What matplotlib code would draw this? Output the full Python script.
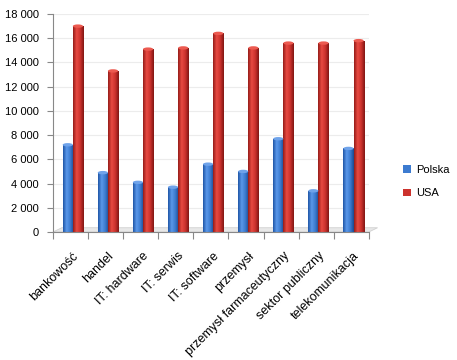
import numpy as np
import matplotlib
matplotlib.use("Agg")
import matplotlib.pyplot as plt
from matplotlib.patches import Ellipse, Polygon
from matplotlib.colors import LinearSegmentedColormap

plt.rcParams["font.family"] = ["Liberation Sans", "DejaVu Sans"]

categories = ["bankowość", "handel", "IT: hardware", "IT: serwis", "IT: software",
              "przemysł", "przemysł farmaceutyczny", "sektor publiczny", "telekomunikacja"]
polska = [7200, 4900, 4100, 3700, 5600, 5000, 7700, 3400, 6900]
usa = [17000, 13300, 15100, 15200, 16400, 15200, 15600, 15600, 15800]
yticks = [0, 2000, 4000, 6000, 8000, 10000, 12000, 14000, 16000, 18000]

# kolory cylindrów: ciemny brzeg - jasny środek - ciemny brzeg
blue_cm = LinearSegmentedColormap.from_list("b", ["#1f55a6", "#5a98ea", "#3c7bd0", "#1c4a90"])
red_cm = LinearSegmentedColormap.from_list("r", ["#951c18", "#e84a42", "#cc322d", "#801613"])
blue_top = "#6fa3ea"
red_top = "#ec5a50"

fig = plt.figure(figsize=(4.57, 3.6), dpi=100)
ax = fig.add_axes([0.116, 0.3556, 0.691, 0.6055])
ax.set_xlim(0, len(categories))
ax.set_ylim(0, 18000)

for y in yticks[1:]:
    ax.axhline(y, color="#ececec", lw=0.8, zorder=0)

# podłoga
floor = Polygon([[0, 0], [9, 0], [9.25, 350], [0.25, 350]], closed=True,
                facecolor="#e8e8e8", edgecolor="#d0d0d0", lw=0.6, zorder=1, clip_on=False)
ax.add_patch(floor)

x = np.arange(len(categories)) + 0.5
w = 0.29
grad = np.linspace(0, 1, 64).reshape(1, -1)
cap_h = 280

for xs, vals, cm, top in [(x - 0.08, polska, blue_cm, blue_top), (x + 0.21, usa, red_cm, red_top)]:
    bars = ax.bar(xs, vals, width=w, color="none", zorder=2)
    for b, v in zip(bars, vals):
        x0 = b.get_x()
        im = ax.imshow(grad, cmap=cm, aspect="auto", extent=[x0, x0 + w, 0, v], zorder=2)
        im.set_clip_path(b)
        ax.add_patch(Ellipse((x0 + w / 2, v), w, cap_h, facecolor=top, edgecolor="none", zorder=3))
ax.set_xlim(0, len(categories))
ax.set_ylim(0, 18000)

ax.set_yticks(yticks)
ax.set_yticklabels([f"{v:,}".replace(",", " ") for v in yticks], fontsize=8)
ax.set_xticks(np.arange(len(categories) + 1))
ax.set_xticklabels([])
ax.set_xticks(x + 0.06, minor=True)
ax.set_xticklabels(categories, minor=True, rotation=45, ha="right", rotation_mode="anchor", fontsize=9)
ax.tick_params(axis="x", which="minor", length=0, pad=13)
ax.tick_params(axis="x", which="major", length=5, color="#888888")
ax.tick_params(axis="y", length=4, color="#888888", pad=6)

for s in ["top", "right"]:
    ax.spines[s].set_visible(False)
ax.spines["left"].set_color("#888888")
ax.spines["bottom"].set_color("#888888")

h1 = plt.Rectangle((0, 0), 1, 1, facecolor="#3c7bd0")
h2 = plt.Rectangle((0, 0), 1, 1, facecolor="#cc322d")
fig.legend([h1, h2], ["Polska", "USA"], loc="center left", bbox_to_anchor=(0.86, 0.495),
           frameon=False, fontsize=8, handlelength=0.7, handleheight=0.7, labelspacing=1.2,
           handletextpad=0.5)

fig.savefig("out.png", dpi=100)
